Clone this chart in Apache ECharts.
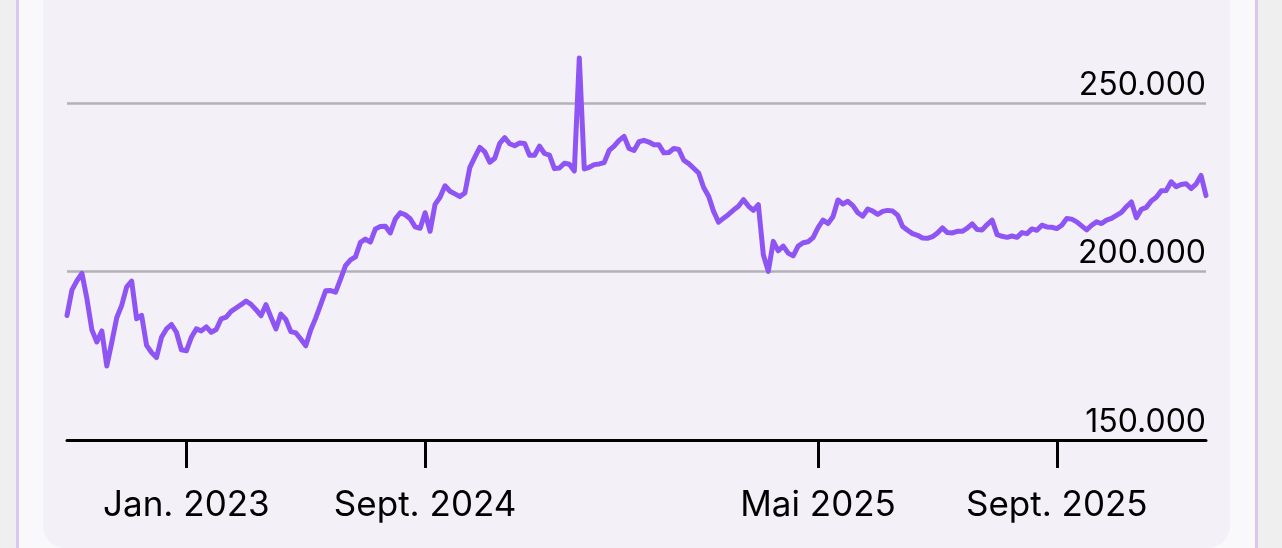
<!DOCTYPE html>
<html>
<head>
<meta charset="utf-8">
<script src="https://cdn.jsdelivr.net/npm/echarts@6/dist/echarts.min.js"></script>
<style>
  html, body { margin: 0; padding: 0; width: 1282px; height: 548px; overflow: hidden; background: #efeff0; }
  #outer { position: absolute; left: 16px; top: -20px; width: 1236px; height: 600px; background: #f9f8fb; border-left: 3px solid #d8c9f1; border-right: 3px solid #d8c9f1; }
  #card { position: absolute; left: 43px; top: -40px; width: 1187px; height: 588px; background: #f3f0f8; border-radius: 22px; }
  #chart { position: absolute; left: 0; top: -67px; width: 1282px; height: 615px; }
</style>
</head>
<body>
<div id="outer"></div>
<div id="card"></div>
<div id="chart"></div>
<script>
// Series values, one per category position
const values = [
  187000, 194600, 197300, 199500, 192000, 182700, 179100, 182400, 172000, 179000,
  186300, 190000, 195500, 197200, 186000, 187000, 178100, 176000, 174500, 180500,
  183000, 184300, 182000, 176800, 176500, 180500, 183000, 182400, 183600, 182000,
  182800, 186000, 186500, 188200, 189200, 190200, 191300, 190300, 188700, 186900,
  190200, 186500, 183000, 187400, 185800, 182200, 181800, 180000, 178000, 182700,
  186200, 190200, 194300, 194400, 193900, 197800, 201800, 203500, 204400, 208700,
  209700, 208800, 212700, 213400, 213500, 211500, 215600, 217500, 216900, 215700,
  213300, 212900, 217500, 212000, 220000, 222100, 225500, 223900, 223100, 222300,
  223400, 231000, 234000, 236900, 235600, 232500, 233700, 238100, 239800, 238000,
  237400, 238200, 238100, 234600, 234600, 237300, 235100, 234600, 230600, 230800,
  232200, 231900, 229900, 263500, 230500, 231000, 231800, 232000, 232400, 236000,
  237300, 239000, 240200, 236600, 236000, 238600, 239000, 238500, 237700, 237700,
  235300, 235400, 236600, 236300, 233100, 232100, 230700, 229300, 225000, 222400,
  217900, 214700, 215900, 217000, 218300, 219400, 221400, 219500, 218200, 219900,
  205000, 200100, 209000, 206200, 207600, 205500, 204700, 207600, 208600, 208900,
  210100, 213100, 215300, 214300, 216300, 221300, 220100, 220900, 219600, 217500,
  216500, 218600, 218000, 217000, 217900, 218200, 218000, 216800, 213400, 212300,
  211300, 210800, 210000, 209900, 210400, 211500, 213000, 211600, 211500, 212000,
  212000, 212900, 214200, 212500, 212400, 214000, 215300, 211000, 210500, 210200,
  210600, 210200, 211600, 211300, 212700, 212300, 213800, 213300, 213200, 212800,
  213800, 215800, 215600, 214800, 213600, 212400, 213800, 214800, 214300, 215300,
  215800, 216700, 217600, 219300, 220700, 216000, 218500, 219100, 221000, 222100,
  224000, 224100, 226700, 225200, 225900, 226100, 224700, 226000, 228600, 222600
];
// Categories: one per data point (positions along the time axis)
const categories = values.map((_, i) => 'p' + i);
// Tick labels and the category positions where they sit
const tickLabels = ['Jan. 2023', 'Sept. 2024', 'Mai 2025', 'Sept. 2025'];
const tickIndices = [24, 72, 151, 199];
// Y axis tick values that carry labels
const yTicks = [150000, 200000, 250000];

const labelAt = {};
tickIndices.forEach((ix, k) => { labelAt[ix] = tickLabels[k]; });

function deFormat(v) {
  return String(Math.round(v)).replace(/\B(?=(\d{3})+(?!\d))/g, '.');
}

const chart = echarts.init(document.getElementById('chart'), null, { renderer: 'canvas' });
chart.setOption({
  animation: false,
  backgroundColor: 'transparent',
  grid: { left: 67, right: 76, top: 0, bottom: 108, containLabel: false },
  xAxis: {
    type: 'category',
    data: categories,
    boundaryGap: false,
    axisLine: { show: true, lineStyle: { color: '#000', width: 3 } },
    axisTick: {
      show: true,
      interval: (i) => labelAt[i] !== undefined,
      length: 28,
      lineStyle: { color: '#000', width: 3 }
    },
    axisLabel: {
      show: true,
      interval: (i) => labelAt[i] !== undefined,
      formatter: (val, i) => labelAt[i] || '',
      color: '#000',
      fontFamily: 'Inter',
      fontSize: 35,
      margin: 48
    },
    splitLine: { show: false }
  },
  yAxis: {
    type: 'value',
    position: 'right',
    min: 150000,
    max: 300000,
    interval: 50000,
    axisLine: { show: false },
    axisTick: { show: false },
    splitLine: { show: true, lineStyle: { color: '#b3b1b8', width: 2.5 } },
    axisLabel: {
      inside: true,
      margin: 0,
      color: '#000',
      fontFamily: 'Inter',
      fontSize: 32,
      lineHeight: 32,
      verticalAlign: 'bottom',
      padding: [0, 0, 2, 0],
      formatter: (v) => yTicks.includes(v) ? deFormat(v) : ''
    }
  },
  series: [{
    type: 'line',
    data: values,
    showSymbol: false,
    symbol: 'none',
    lineStyle: { color: '#8f55f4', width: 5, join: 'round', cap: 'round' },
    z: 3
  }]
});
</script>
</body>
</html>
